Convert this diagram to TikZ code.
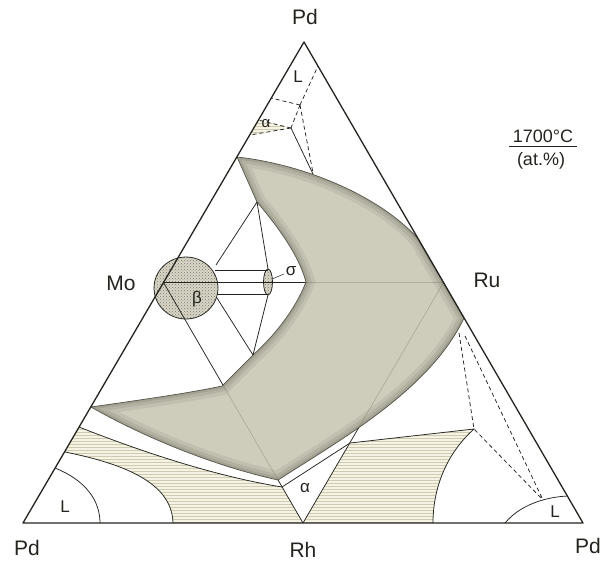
\documentclass[tikz,border=0pt]{standalone}
\usepackage{fontspec}
\setmainfont{Liberation Sans}
\usetikzlibrary{patterns}
\definecolor{Ink}{HTML}{24241F}
\definecolor{Moon}{HTML}{C6C4B0}
\definecolor{MoonEdge}{HTML}{55544A}
\definecolor{Hatch}{HTML}{F6F3E4}
\definecolor{HatchLine}{HTML}{CFCBB0}
\definecolor{Dot}{HTML}{DAD7C7}
% outline of the shaded field
\newcommand{\moonpath}{(237,157) .. controls (310,165) and (385,200) .. (419,240) -- (464,318)
  .. controls (430,390) and (340,440) .. (278,480) .. controls (210,465) and (140,435) .. (91,407)
  .. controls (140,400) and (190,393) .. (222,386) -- (253,355) .. controls (275,335) and (295,310) .. (306,282)
  .. controls (300,260) and (285,235) .. (257,202) -- cycle}

\begin{document}
\begin{tikzpicture}[x=1pt,y=-1pt,
  edge/.style={Ink,line width=1.3pt,line join=round},
  bound/.style={Ink,line width=0.75pt},
  phasedash/.style={Ink,line width=0.75pt,dash pattern=on 4pt off 3pt},
  hatchzone/.style={fill=Hatch,postaction={pattern=horizontal lines,pattern color=HatchLine}},
  dotzone/.style={fill=Dot,postaction={pattern=crosshatch dots,pattern color=black!55}},
  corner/.style={font=\fontsize{21}{24}\selectfont,text=Ink},
  phase/.style={font=\fontsize{17}{20}\selectfont,text=Ink}]
\useasboundingbox (0,0) rectangle (605,565);
\fill[white] (0,0) rectangle (605,565);
\coordinate (pdT) at (304,42);
\coordinate (pdL) at (23,523);
\coordinate (pdR) at (583,523);
\coordinate (mo) at (163.5,282.5);
\coordinate (ru) at (443.5,282.5);
\coordinate (rh) at (303,523);
\coordinate (j1) at (300,105);
\coordinate (j2) at (291,128);
\coordinate (hk) at (474,429);
\coordinate (tl) at (543,500);
% two-phase fields
\path[hatchzone] (79,427) .. controls (150,455) and (220,477) .. (282,487) -- (rh) -- (173,523)
  .. controls (172,485) and (130,465) .. (65,452) -- cycle;
\path[hatchzone] (350,443) -- (hk) .. controls (445,455) and (433,490) .. (433,523) -- (rh) -- cycle;
\path[hatchzone] (258,120) -- (j2) -- (250,135) -- cycle;
% beta and sigma
\path[dotzone] (186,288) ellipse [x radius=32,y radius=31];
\path[dotzone] (268,282) ellipse [x radius=4.5,y radius=13];
\draw[bound] (186,288) ellipse [x radius=32,y radius=31];
\draw[bound] (268,282) ellipse [x radius=4.5,y radius=13];
\draw[bound] (mo) -- (ru) (mo) -- (rh) (ru) -- (rh);
% shaded field
\fill[Moon,fill opacity=0.86] \moonpath;
\begin{scope}
\clip \moonpath;
\draw[MoonEdge,line width=18pt,opacity=0.10] \moonpath;
\draw[MoonEdge,line width=11pt,opacity=0.12] \moonpath;
\draw[MoonEdge,line width=5pt,opacity=0.16] \moonpath;
\end{scope}
\draw[MoonEdge,line width=0.7pt] \moonpath;
% tie lines round beta / sigma
\draw[bound] (257,202) -- (216,265) (257,202) -- (268,269) (268,295) -- (253,355) (217,298) -- (253,355);
\draw[bound] (215,270) -- (268,270) (217,294) -- (268,294);
\draw[Ink,line width=0.5pt] (272,279) -- (284,274);
% boundaries near the base
\draw[bound] (79,427) .. controls (150,455) and (220,477) .. (282,487) -- (350,443) -- (hk)
  .. controls (445,455) and (433,490) .. (433,523);
\draw[bound] (65,452) .. controls (130,465) and (172,485) .. (173,523);
\draw[bound] (55,468) .. controls (85,480) and (100,500) .. (100,523);
\draw[bound] (505,523) .. controls (520,505) and (545,497) .. (568,496);
% top corner
\draw[phasedash] (j1) -- (318,66) (j1) -- (271,98) (j1) -- (313,173) (j1) -- (j2)
  (j2) -- (258,120) (j2) -- (250,135);
\draw[bound] (j2) -- (313,174);
% right corner
\draw[phasedash] (459,333) -- (hk) -- (tl) (465,336) -- (tl);
\draw[edge] (pdT) -- (pdL) -- (pdR) -- cycle;
% labels
\node[corner] (lPdT) at (305,17) {Pd};
\node[corner] (lMo) at (121,283) {Mo};
\node[corner] (lRu) at (487,280) {Ru};
\node[corner] (lPdL) at (27,548) {Pd};
\node[corner] (lRh) at (303,550) {Rh};
\node[corner] (lPdR) at (588,546) {Pd};
\node[phase] (lLT) at (298,77) {L};
\node[phase,font=\fontsize{15}{18}\selectfont] (lAlphaT) at (266,124) {α};
\node[phase] (lBeta) at (197,299) {β};
\node[phase] (lSigma) at (291,271) {σ};
\node[phase] (lAlphaB) at (305,488) {α};
\node[phase] (lLL) at (65,507) {L};
\node[phase] (lLR) at (555,512) {L};
\node[font=\fontsize{18}{20}\selectfont,text=Ink] (lTemp) at (543,136) {1700°C};
\draw[Ink,line width=0.8pt] (lTemp.south west) -- (lTemp.south east);
\node[font=\fontsize{18}{20}\selectfont,text=Ink] (lUnit) at (541,161) {(at.\%)};
\end{tikzpicture}
\end{document}
